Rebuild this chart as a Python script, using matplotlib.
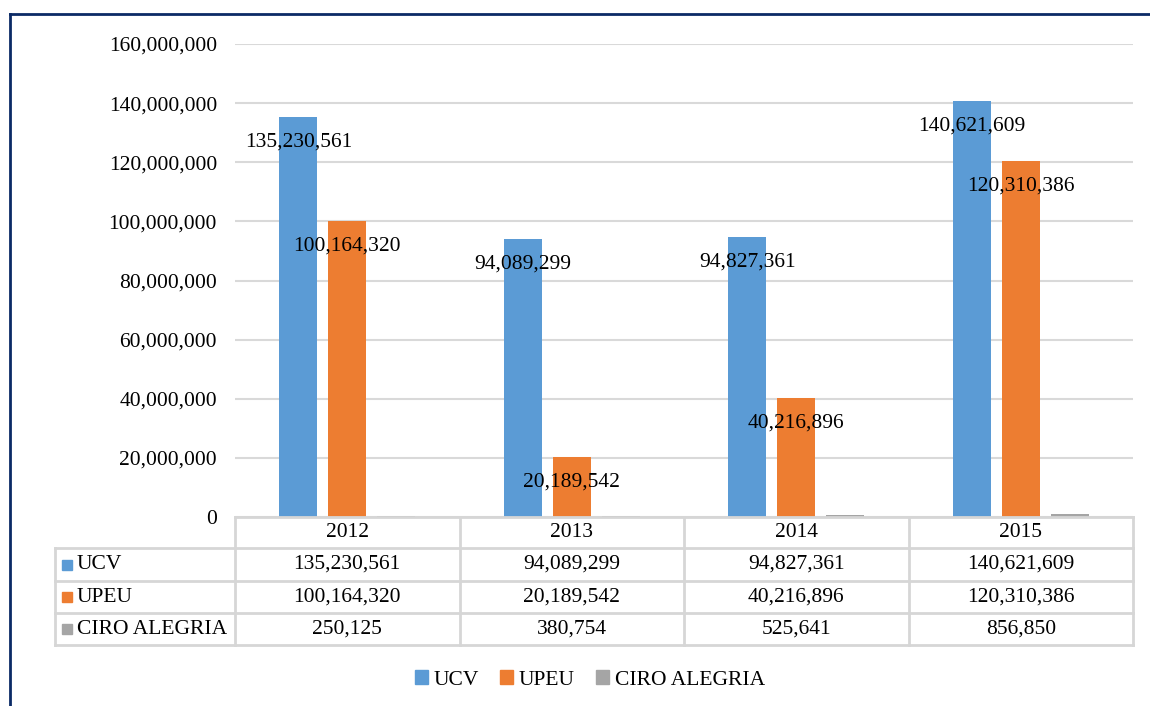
import matplotlib
matplotlib.use("Agg")
import matplotlib.pyplot as plt
from matplotlib.lines import Line2D
from matplotlib.patches import Rectangle, Patch

years = ["2012", "2013", "2014", "2015"]
series_names = ["UCV", "UPEU", "CIRO ALEGRIA"]
ucv = [135230561, 94089299, 94827361, 140621609]
upeu = [100164320, 20189542, 40216896, 120310386]
ciro = [250125, 380754, 525641, 856850]
colors = ["#5B9BD5", "#ED7D31", "#A5A5A5"]
yticks = [0, 20000000, 40000000, 60000000, 80000000, 100000000, 120000000, 140000000, 160000000]
show_labels = [True, True, False]

W, H = 1150, 706
plt.rcParams['font.family'] = ['Liberation Serif', 'DejaVu Serif']
FS = 15.5

fig = plt.figure(figsize=(W / 100, H / 100), dpi=100)

def fx(px):
    return px / W

def fy(py):
    return 1 - py / H

ax_l, ax_r, ax_t, ax_b = 235, 1133, 44, 517
ax = fig.add_axes([fx(ax_l), fy(ax_b), fx(ax_r) - fx(ax_l), fy(ax_t) - fy(ax_b)])

n = len(years)
data = [ucv, upeu, ciro]
bw = 0.17
step = 0.218
for i, (vals, c) in enumerate(zip(data, colors)):
    xs = [k + (i - 1) * step for k in range(n)]
    ax.bar(xs, vals, width=bw, color=c, zorder=3)
    if show_labels[i]:
        for x, v in zip(xs, vals):
            ax.annotate(f"{v:,}", xy=(x, v), xytext=(0, -25), textcoords='offset pixels',
                        ha='center', va='center', fontsize=FS, color='black', zorder=5)

ax.set_xlim(-0.5, n - 0.5)
ax.set_ylim(0, 160000000)
ax.set_yticks(yticks)
ax.set_yticklabels([f"{t:,}" for t in yticks], fontsize=FS)
ax.tick_params(axis='y', length=0, pad=13)
ax.set_xticks([])
ax.grid(axis='y', color='#D9D9D9', linewidth=1.5, zorder=0)
for s in ax.spines.values():
    s.set_visible(False)

# Data table
tc = '#D6D6D6'
tlw = 2.0
col_edges = [ax_l + k * (ax_r - ax_l) / n for k in range(n + 1)]
row_edges = [517, 548, 581, 613, 645]
lab_l = 55

def hline(y, x0, x1):
    fig.add_artist(Line2D([fx(x0), fx(x1)], [fy(y), fy(y)], color=tc, lw=tlw))

def vline(x, y0, y1):
    fig.add_artist(Line2D([fx(x), fx(x)], [fy(y0), fy(y1)], color=tc, lw=tlw))

hline(row_edges[0], ax_l, ax_r)
for y in row_edges[1:]:
    hline(y, lab_l, ax_r)
for x in col_edges:
    vline(x, row_edges[0], row_edges[-1])
vline(lab_l, row_edges[1], row_edges[-1])

for k, yr in enumerate(years):
    cx = (col_edges[k] + col_edges[k + 1]) / 2
    fig.text(fx(cx), fy((row_edges[0] + row_edges[1]) / 2), yr, ha='center', va='center', fontsize=FS)
for i, (name, vals, c) in enumerate(zip(series_names, data, colors)):
    cy = (row_edges[i + 1] + row_edges[i + 2]) / 2
    fig.add_artist(Rectangle((fx(62), fy(cy + 5)), fx(10), 10 / H, color=c, transform=fig.transFigure))
    fig.text(fx(77), fy(cy), name, ha='left', va='center', fontsize=FS)
    for k, v in enumerate(vals):
        cx = (col_edges[k] + col_edges[k + 1]) / 2
        fig.text(fx(cx), fy(cy), f"{v:,}", ha='center', va='center', fontsize=FS)

# Legend
handles = [Patch(color=c, label=nm) for c, nm in zip(colors, series_names)]
fig.legend(handles=handles, loc='center', bbox_to_anchor=(fx(590), fy(680)), ncol=3,
           frameon=False, fontsize=FS, handlelength=0.6, handleheight=0.6,
           handletextpad=0.25, columnspacing=1.0)

# Outer border (left and top)
border = '#0B2A66'
fig.add_artist(Line2D([fx(10), fx(10)], [fy(14), 0], color=border, lw=2))
fig.add_artist(Line2D([fx(10), 1], [fy(14), fy(14)], color=border, lw=2))

fig.savefig("out.png", dpi=100)
